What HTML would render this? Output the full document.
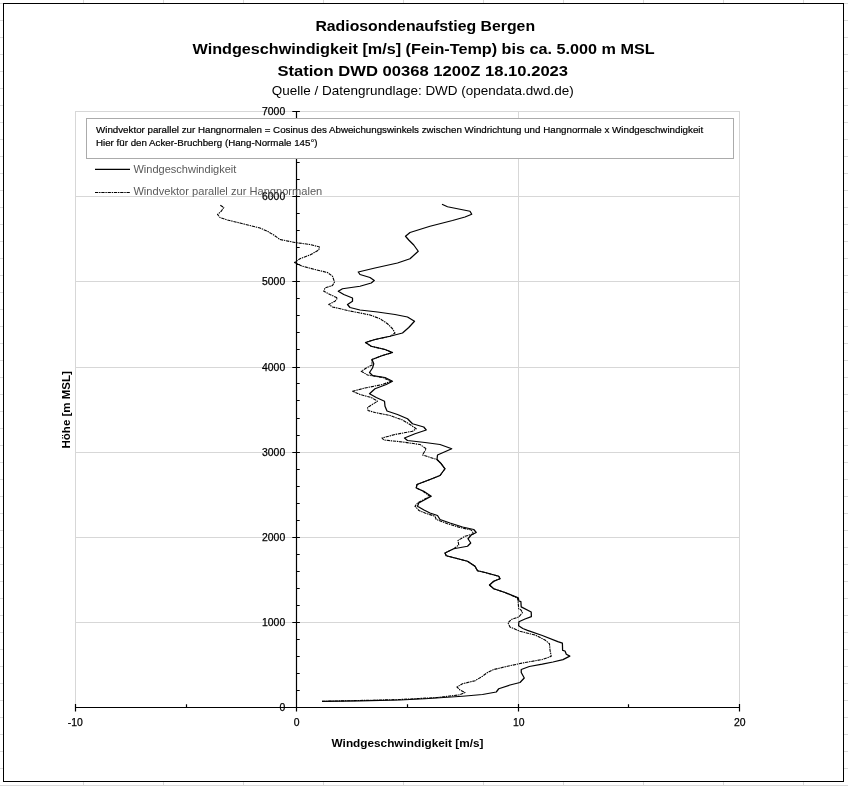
<!DOCTYPE html>
<html lang="de"><head><meta charset="utf-8"><title>Radiosondenaufstieg Bergen</title>
<style>
html,body{margin:0;padding:0;background:#fff;}
body{width:848px;height:786px;overflow:hidden;position:relative;font-family:"Liberation Sans",sans-serif;}
svg{position:absolute;left:0;top:0;display:block}
text{font-family:"Liberation Sans",sans-serif;}
.b{font-weight:bold}
</style></head><body>
<svg width="848" height="786" viewBox="0 0 848 786">
<rect width="848" height="786" fill="#fff"/>
<path d="M83.5 0V786M163.5 0V786M243.5 0V786M323.5 0V786M403.5 0V786M483.5 0V786M563.5 0V786M643.5 0V786M723.5 0V786M803.5 0V786M883.5 0V786M0 3.5H848M0 20.5H848M0 37.5H848M0 54.5H848M0 71.5H848M0 88.5H848M0 105.5H848M0 122.5H848M0 139.5H848M0 156.5H848M0 173.5H848M0 190.5H848M0 207.5H848M0 224.5H848M0 241.5H848M0 258.5H848M0 275.5H848M0 292.5H848M0 309.5H848M0 326.5H848M0 343.5H848M0 360.5H848M0 377.5H848M0 394.5H848M0 411.5H848M0 428.5H848M0 445.5H848M0 462.5H848M0 479.5H848M0 496.5H848M0 513.5H848M0 530.5H848M0 547.5H848M0 564.5H848M0 581.5H848M0 598.5H848M0 615.5H848M0 632.5H848M0 649.5H848M0 666.5H848M0 683.5H848M0 700.5H848M0 717.5H848M0 734.5H848M0 751.5H848M0 768.5H848M0 785.5H848" stroke="#dadada" stroke-width="1" fill="none"/>
<rect x="3.5" y="3.5" width="840" height="778" fill="#fff" stroke="#000" stroke-width="1"/>
<path d="M75 622.5H740M75 537.5H740M75 452.5H740M75 367.5H740M75 281.5H740M75 196.5H740M75 111.5H740M75.5 111V707.5M518.5 111V707.5M739.5 111V707.5" stroke="#d7d7d7" stroke-width="1" fill="none"/>
<path d="M75.3 707.5H739.4M296.5 111.5V707.5M75.5 704.1V711.4M296.5 704.1V711.4M518.5 704.1V711.4M739.5 704.1V711.4M186.5 704.2V707.5M407.5 704.2V707.5M628.5 704.2V707.5M292.3 707.5H299.9M292.3 622.5H299.9M292.3 537.5H299.9M292.3 452.5H299.9M292.3 367.5H299.9M292.3 281.5H299.9M292.3 196.5H299.9M292.3 111.5H299.9M296.5 690.5H299.7M296.5 673.5H299.7M296.5 656.5H299.7M296.5 639.5H299.7M296.5 605.5H299.7M296.5 588.5H299.7M296.5 571.5H299.7M296.5 554.5H299.7M296.5 520.5H299.7M296.5 503.5H299.7M296.5 486.5H299.7M296.5 469.5H299.7M296.5 435.5H299.7M296.5 418.5H299.7M296.5 400.5H299.7M296.5 383.5H299.7M296.5 349.5H299.7M296.5 332.5H299.7M296.5 315.5H299.7M296.5 298.5H299.7M296.5 264.5H299.7M296.5 247.5H299.7M296.5 230.5H299.7M296.5 213.5H299.7M296.5 179.5H299.7M296.5 162.5H299.7M296.5 145.5H299.7M296.5 128.5H299.7" stroke="#000" stroke-width="1.2" fill="none"/>
<polyline points="322,701.3 360,700.8 400,700 425,698.75 462.5,696.25 482.5,694.5 496.25,692 498.75,688.75 510,685 520,682.5 524.25,678 521.25,672.5 521.25,669.5 529.3,666.5 542.3,664.2 553,662 563,659.6 569.8,656.1 566.3,654.2 565,651 562.6,650.3 562.4,643.2 557.8,641.7 542.3,635.5 527.5,630.3 522.8,628.5 518.6,625.7 518.9,621.8 525,619 531.4,616.6 531.2,612 521.2,606.9 520.9,601.7 518.9,601 518.3,597.8 505,592.5 493.75,588.75 489.5,585 493.75,581.25 500,578.75 498.75,576.25 485,572.5 477.5,570.75 475,566.25 467.5,561.25 455,558 446.25,555.75 445,553 453.75,548.75 467.5,546.25 470.75,543 468,538.75 471.25,535 476.25,532.5 473.75,529.5 462.5,527 450,523 440,519.5 437.5,515.5 430,513 424,510 417.5,506.25 418.75,503 431.25,496.25 423.75,491.25 416.25,488 417,484.5 430,479.5 440,475.5 445,468.75 441.25,463.75 437,459.5 437.5,455 451.75,448.75 440,444.5 425,442.5 407.5,440.5 404.5,438 415,433.75 426.25,430 423.75,427 412.5,423.75 407.5,418.75 397.5,414.5 387,411 385,406.25 384.5,401.25 376.25,397.5 369.5,393.75 375,388.75 386.25,384.5 392.5,381.25 385,377.5 372.5,375.5 369.5,372.5 372.5,368 373.75,363.75 372,359.5 382.5,355.5 392.5,352.5 385,349.5 371.25,346.25 365.5,342.5 375,339.5 390,336.25 402.5,333 408.75,327.5 414.5,321.25 407.5,317 395,314.5 377.5,312 360,310 350,307.5 347.5,304.5 352.5,301.25 352.5,298 343.75,294.5 338.25,291.25 342.5,288.75 360,286.25 371.25,283 374.25,280.5 370,277.5 360,274.5 358.25,272 375,268 397.5,263 410,258.75 418.25,251.25 413.75,245 408.75,240 405.5,236.25 410,232.5 430,226.25 452.5,220.5 465,217 471.75,214.25 470,211.25 457.5,208.75 447.5,206.75 442,204.25" fill="none" stroke="#000" stroke-width="1.25" stroke-linejoin="round"/>
<polyline points="322,701.3 360,700.5 400,699.5 437.5,697.5 458.75,695 465,692.5 460,690 457,687 462.5,683.75 475,680.75 482.5,676.25 487.5,672.5 493.75,669.5 507.5,666.25 525,662.5 542.5,659.5 551.25,656.25 550,650 549.5,643.75 545,640 535,635 520,631.25 510,627 508,623 511.25,619.5 518.75,617 522.5,612.5 521,610 518.75,608.75 518,601 517.5,598 505,592.5 493.75,588.75 489.5,585 493.75,581.25 500,578.75 498.75,576.25 485,572.5 477.5,570.75 475,566.25 467.5,561.25 455,558 446.25,555.75 445,553 453.75,548.75 458.75,545 458,540.5 465,536.25 473.75,533.75 471.25,530 460,527.5 447.5,523.75 436.25,519.5 435,516.25 425,513 419,510.5 415,506.25 417.5,503 430,496.25 423,491.25 416.25,488 417,484.5 430,479.5 440,475.5 445,468.75 441.25,463.75 437,459.5 422.5,455 426.25,448.75 420,444.5 402.5,442 383.75,440 382,438 395,434.5 412.5,431.25 416.25,428.75 410,424.5 402.5,420 390,415.5 375,412.5 368,410.5 367.5,407.5 377.5,401.25 371.25,397.5 360,394.5 352.5,391.25 365,388 382.5,384.5 391.25,381.25 382.5,377.5 367.5,375 361.25,371.25 366.25,368 372,365 372,359.5 382.5,355.5 392.5,352.5 385,349.5 371.25,346.25 365.5,342.5 375,339.5 390,336.25 395,333 392.5,328.75 387.5,323.75 380,318.75 370,315 355,312 347.5,310.5 332.5,307 328.75,304.5 335,301.25 337.5,298 330,294.5 323.75,291.25 325,288 332.5,285.5 334.5,282 332.5,276.25 327.5,272.5 315,269.5 302.5,266.25 294.5,262.5 300,258.75 310,255 318.75,250 319.5,247 310,244.5 295,242.5 280,239.5 273.75,235 267.5,231.25 260,228 250,225.5 240,223 227.5,220 220,217.5 217.5,214.5 221.25,211.25 223.75,207.5 220,205" fill="none" stroke="#000" stroke-width="1.1" stroke-dasharray="3.3 0.8 1.4 0.8" stroke-linejoin="round"/>
<text x="285.2" y="711.05" font-size="10.4" text-anchor="end" fill="#000" stroke="#000" stroke-width="0.25">0</text>
<text x="285.2" y="626.05" font-size="10.4" text-anchor="end" fill="#000" stroke="#000" stroke-width="0.25">1000</text>
<text x="285.2" y="541.05" font-size="10.4" text-anchor="end" fill="#000" stroke="#000" stroke-width="0.25">2000</text>
<text x="285.2" y="456.05" font-size="10.4" text-anchor="end" fill="#000" stroke="#000" stroke-width="0.25">3000</text>
<text x="285.2" y="371.05" font-size="10.4" text-anchor="end" fill="#000" stroke="#000" stroke-width="0.25">4000</text>
<text x="285.2" y="285.05" font-size="10.4" text-anchor="end" fill="#000" stroke="#000" stroke-width="0.25">5000</text>
<text x="285.2" y="200.05" font-size="10.4" text-anchor="end" fill="#000" stroke="#000" stroke-width="0.25">6000</text>
<text x="285.2" y="115.05" font-size="10.4" text-anchor="end" fill="#000" stroke="#000" stroke-width="0.25">7000</text>
<text x="75.3" y="725.6" font-size="10.4" text-anchor="middle" fill="#000" stroke="#000" stroke-width="0.25">-10</text>
<text x="296.7" y="725.6" font-size="10.4" text-anchor="middle" fill="#000" stroke="#000" stroke-width="0.25">0</text>
<text x="518.7" y="725.6" font-size="10.4" text-anchor="middle" fill="#000" stroke="#000" stroke-width="0.25">10</text>
<text x="739.7" y="725.6" font-size="10.4" text-anchor="middle" fill="#000" stroke="#000" stroke-width="0.25">20</text>
<rect x="86.5" y="118.5" width="647" height="40" fill="#fff" stroke="#ababab" stroke-width="1"/>
<text x="96" y="132.8" font-size="9.4" fill="#000" stroke="#000" stroke-width="0.2" textLength="607.2" lengthAdjust="spacingAndGlyphs">Windvektor parallel zur Hangnormalen = Cosinus des Abweichungswinkels zwischen Windrichtung und Hangnormale x Windgeschwindigkeit</text>
<text x="96" y="146.3" font-size="9.4" fill="#000" stroke="#000" stroke-width="0.2" textLength="221.6" lengthAdjust="spacingAndGlyphs">Hier für den Acker-Bruchberg (Hang-Normale 145°)</text>
<path d="M95 169.4H130" stroke="#000" stroke-width="1.4"/>
<path d="M95 192.5H130" stroke="#000" stroke-width="1.2" stroke-dasharray="3.3 0.8 1.4 0.8"/>
<text x="133.4" y="172.9" font-size="10.8" fill="#595959" textLength="103" lengthAdjust="spacingAndGlyphs">Windgeschwindigkeit</text>
<text x="133.4" y="195.0" font-size="10.8" fill="#595959" textLength="188.9" lengthAdjust="spacingAndGlyphs">Windvektor parallel zur Hangnormalen</text>
<text class="b" x="315.4" y="30.8" font-size="15.4" textLength="219.7" lengthAdjust="spacingAndGlyphs">Radiosondenaufstieg Bergen</text>
<text class="b" x="192.5" y="54.1" font-size="15.4" textLength="462.1" lengthAdjust="spacingAndGlyphs">Windgeschwindigkeit [m/s] (Fein-Temp) bis ca. 5.000 m MSL</text>
<text class="b" x="277.4" y="76.3" font-size="15.4" textLength="290.7" lengthAdjust="spacingAndGlyphs">Station DWD 00368 1200Z 18.10.2023</text>
<text x="271.8" y="94.7" font-size="12.6" textLength="301.9" lengthAdjust="spacingAndGlyphs">Quelle / Datengrundlage: DWD (opendata.dwd.de)</text>
<text class="b" x="331.6" y="747.2" font-size="11.2" textLength="151.8" lengthAdjust="spacingAndGlyphs">Windgeschwindigkeit [m/s]</text>
<text class="b" transform="translate(70.2 448.5) rotate(-90)" font-size="11.2" textLength="77.4" lengthAdjust="spacingAndGlyphs">Höhe [m MSL]</text>
</svg>
</body></html>
